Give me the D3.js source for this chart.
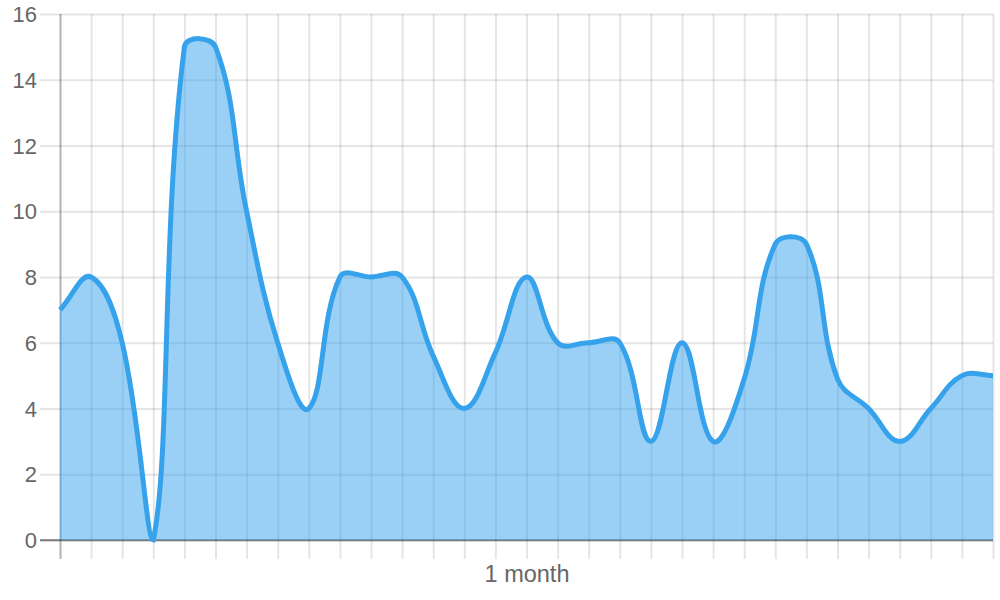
<!DOCTYPE html>
<html>
<head>
<meta charset="utf-8">
<script src="https://cdn.jsdelivr.net/npm/d3@7"></script>
<style>
  html, body { margin: 0; padding: 0; background: #fff; }
  svg text { font-family: "Liberation Sans", Arial, Helvetica, sans-serif; fill: #666; }
</style>
</head>
<body>
<div id="chart"></div>
<script>
// one value per day, 31 days
const values = [7, 8, 6, 0, 15, 15, 10, 6, 4, 8, 8, 8, 5.6, 4, 5.7, 8, 6, 6, 6, 3, 6, 3, 4.9, 9, 9, 4.9, 4, 3, 4, 5, 5];
const xLabels = values.map((d, i) => (i === 15 ? "1 month" : ""));
const yTicks = [0, 2, 4, 6, 8, 10, 12, 14, 16];

const width = 1000;
const height = 600;
const margin = { top: 14, right: 7, bottom: 60, left: 60 };
const plotW = width - margin.left - margin.right;
const plotH = height - margin.top - margin.bottom;

const lineColor = "rgb(54, 162, 235)";
const fillColor = "rgba(54, 162, 235, 0.5)";
const gridColor = "rgba(0, 0, 0, 0.1)";
const zeroColor = "rgba(0, 0, 0, 0.3)";

const x = d3.scalePoint()
  .domain(d3.range(values.length))
  .range([0, plotW]);

const y = d3.scaleLinear()
  .domain([0, 16])
  .range([plotH, 0]);

// spline like chart.js (tension 0.4, control points capped to chart area)
const splineCurve = (tension, bounds) => (context) => {
  let pts;
  return {
    areaStart() { this._line = 0; },
    areaEnd() { this._line = NaN; },
    lineStart() { pts = []; },
    point(px, py) { pts.push({ x: +px, y: +py }); },
    lineEnd() {
      const n = pts.length;
      const cap = (v, lo, hi) => Math.max(Math.min(v, hi), lo);
      pts.forEach((cur, i) => {
        const prev = i > 0 ? pts[i - 1] : cur;
        const next = i < n - 1 ? pts[i + 1] : cur;
        const d01 = Math.hypot(cur.x - prev.x, cur.y - prev.y);
        const d12 = Math.hypot(next.x - cur.x, next.y - cur.y);
        let s01 = d01 / (d01 + d12);
        let s12 = d12 / (d01 + d12);
        if (isNaN(s01)) s01 = 0;
        if (isNaN(s12)) s12 = 0;
        const fa = tension * s01;
        const fb = tension * s12;
        cur.cpx0 = cap(cur.x - fa * (next.x - prev.x), bounds[0], bounds[2]);
        cur.cpy0 = cap(cur.y - fa * (next.y - prev.y), bounds[1], bounds[3]);
        cur.cpx1 = cap(cur.x + fb * (next.x - prev.x), bounds[0], bounds[2]);
        cur.cpy1 = cap(cur.y + fb * (next.y - prev.y), bounds[1], bounds[3]);
      });
      pts.forEach((p, i) => {
        if (i === 0) {
          this._line ? context.lineTo(p.x, p.y) : context.moveTo(p.x, p.y);
        } else {
          const q = pts[i - 1];
          context.bezierCurveTo(q.cpx1, q.cpy1, p.cpx0, p.cpy0, p.x, p.y);
        }
      });
      if (this._line || (this._line !== 0 && n === 1)) context.closePath();
      this._line = 1 - this._line;
    }
  };
};

const curve = splineCurve(0.4, [0, 0, plotW, plotH]);

const svg = d3.select("#chart")
  .append("svg")
  .attr("width", width)
  .attr("height", height);

const g = svg.append("g")
  .attr("transform", `translate(${margin.left},${margin.top})`);

// y grid + labels
const yAxis = g.append("g")
  .call(d3.axisLeft(y).tickValues(yTicks).tickSize(-plotW).tickSizeOuter(0).tickPadding(23));
yAxis.select(".domain").remove();
yAxis.selectAll(".tick line")
  .attr("x1", -20)
  .attr("stroke", (d) => (d === 0 ? zeroColor : gridColor))
  .attr("stroke-width", 2);
yAxis.selectAll(".tick text")
  .attr("dy", "0.35em")
  .style("font-size", "22px");

// x grid + labels
const xAxis = g.append("g")
  .attr("transform", `translate(0,${plotH})`)
  .call(d3.axisBottom(x).tickSize(-plotH).tickSizeOuter(0).tickPadding(25).tickFormat((i) => xLabels[i]));
xAxis.select(".domain").remove();
xAxis.selectAll(".tick line")
  .attr("y1", 19)
  .attr("stroke", (d) => (d === 0 ? zeroColor : gridColor))
  .attr("stroke-width", 2);
xAxis.selectAll(".tick text")
  .style("font-size", "23.5px");

// zero line on top of the grid
g.append("line")
  .attr("x1", -20).attr("x2", plotW)
  .attr("y1", y(0)).attr("y2", y(0))
  .attr("stroke", zeroColor).attr("stroke-width", 2);

const area = d3.area()
  .x((d, i) => x(i))
  .y0(y(0))
  .y1((d) => y(d))
  .curve(curve);

const line = d3.line()
  .x((d, i) => x(i))
  .y((d) => y(d))
  .curve(curve);

g.append("path")
  .datum(values)
  .attr("fill", fillColor)
  .attr("d", area);

g.append("path")
  .datum(values)
  .attr("fill", "none")
  .attr("stroke", lineColor)
  .attr("stroke-width", 5)
  .attr("stroke-linejoin", "miter")
  .attr("d", line);
</script>
</body>
</html>
